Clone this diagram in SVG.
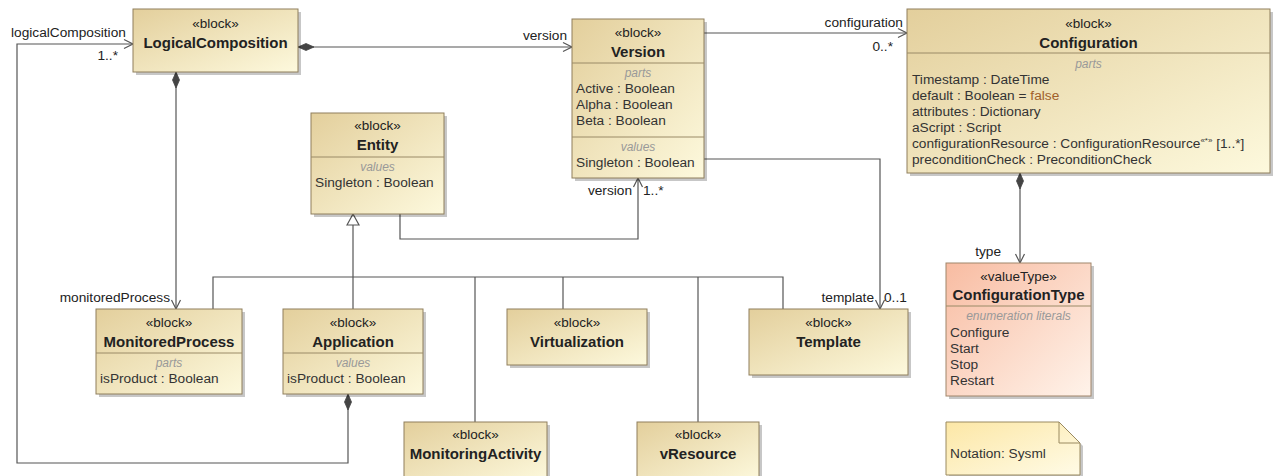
<svg xmlns="http://www.w3.org/2000/svg" width="1274" height="476" viewBox="0 0 1274 476">
<style>
.box{stroke:#8f7f5c;stroke-width:1;fill:url(#blk)}
.vt{stroke:#a0856a;stroke-width:1;fill:url(#vtg)}
.note{stroke:#9a8a60;stroke-width:1;fill:url(#ntg)}
.sh{fill:#000;opacity:0.22}
.div{stroke:#9a8a66;stroke-width:1}
.st{font-family:"Liberation Sans",Arial,sans-serif;font-size:13.5px;fill:#222;text-anchor:middle}
.nm{font-family:"Liberation Sans",Arial,sans-serif;font-size:15px;font-weight:bold;fill:#222;text-anchor:middle}
.cmp{font-family:"Liberation Sans",Arial,sans-serif;font-size:12px;font-style:italic;fill:#999;text-anchor:middle}
.at{font-family:"Liberation Sans",Arial,sans-serif;font-size:13.7px;fill:#333}
.lb{font-family:"Liberation Sans",Arial,sans-serif;font-size:13.7px;fill:#222}
.end{text-anchor:end}
.ln{fill:none;stroke:#555;stroke-width:1.2}
</style>
<defs>
<linearGradient id="blk" x1="0" y1="0" x2="1" y2="1">
<stop offset="0" stop-color="#e3cf9c"/>
<stop offset="1" stop-color="#fdf9dd"/>
</linearGradient>
<linearGradient id="vtg" x1="0" y1="0" x2="1" y2="1">
<stop offset="0" stop-color="#f8bca2"/>
<stop offset="1" stop-color="#fff3ea"/>
</linearGradient>
<linearGradient id="ntg" x1="0" y1="0" x2="1" y2="1">
<stop offset="0" stop-color="#fce7a6"/>
<stop offset="1" stop-color="#fffbe6"/>
</linearGradient>
<marker id="arr" markerUnits="userSpaceOnUse" markerWidth="12" markerHeight="12" refX="9" refY="4.5" orient="auto" viewBox="0 0 12 12" overflow="visible">
<path d="M0,0 L9,4.5 L0,9" fill="none" stroke="#555" stroke-width="1.2"/>
</marker>
<marker id="dia" markerUnits="userSpaceOnUse" markerWidth="18" markerHeight="10" refX="0" refY="4" orient="auto" viewBox="0 0 18 10" overflow="visible">
<path d="M0,4 L8,0.5 L16,4 L8,7.5 Z" fill="#444" stroke="#444" stroke-width="0.8"/>
</marker>
<marker id="gen" markerUnits="userSpaceOnUse" markerWidth="14" markerHeight="14" refX="11" refY="6" orient="auto" viewBox="0 0 14 14" overflow="visible">
<path d="M0,0 L11,6 L0,12 Z" fill="#fff" stroke="#555" stroke-width="1.2"/>
</marker>
</defs>
<rect width="1274" height="476" fill="#fff"/>

<g id="connectors">
<path class="ln" d="M348,394 L348,463 L17,463 L17,44 L133,44" marker-start="url(#dia)" marker-end="url(#arr)"/>
<path class="ln" d="M176,72 L176,309" marker-start="url(#dia)" marker-end="url(#arr)"/>
<path class="ln" d="M298,47 L572,47" marker-start="url(#dia)" marker-end="url(#arr)"/>
<path class="ln" d="M704,33 L907,33" marker-end="url(#arr)"/>
<path class="ln" d="M704,159 L880,159 L880,309" marker-end="url(#arr)"/>
<path class="ln" d="M400,214 L400,239 L638,239 L638,178" marker-end="url(#arr)"/>
<path class="ln" d="M1020,173 L1020,263" marker-start="url(#dia)" marker-end="url(#arr)"/>
<path class="ln" d="M353,309 L353,214" marker-end="url(#gen)"/>
<path class="ln" d="M213,309 L213,277 L783,277 L783,309"/>
<path class="ln" d="M475,277 L475,422"/>
<path class="ln" d="M563,277 L563,309"/>
<path class="ln" d="M698,277 L698,422"/>
<text class="lb" x="11" y="37">logicalComposition</text>
<text class="lb end" x="118" y="60">1..*</text>
<text class="lb end" x="170" y="302">monitoredProcess</text>
<text class="lb end" x="567" y="40">version</text>
<text class="lb end" x="903" y="27">configuration</text>
<text class="lb end" x="893" y="51">0..*</text>
<text class="lb end" x="632" y="195">version</text>
<text class="lb" x="643" y="195">1..*</text>
<text class="lb end" x="874" y="302">template</text>
<text class="lb" x="884" y="302">0..1</text>
<text class="lb end" x="1001" y="256">type</text>
</g>

<g id="LogicalComposition">
<rect class="sh" x="136" y="12" width="165" height="63"/>
<rect class="box" x="133" y="9" width="165" height="63"/>
<text class="st" x="215.5" y="28">«block»</text>
<text class="nm" x="215.5" y="48">LogicalComposition</text>
</g>

<g id="Version">
<rect class="sh" x="575" y="22" width="132" height="159"/>
<rect class="box" x="572" y="19" width="132" height="159"/>
<text class="st" x="638" y="37">«block»</text>
<text class="nm" x="638" y="57">Version</text>
<line class="div" x1="572" y1="63" x2="704" y2="63"/>
<text class="cmp" x="638" y="77">parts</text>
<text class="at" x="576" y="93">Active : Boolean</text>
<text class="at" x="576" y="109">Alpha : Boolean</text>
<text class="at" x="576" y="125">Beta : Boolean</text>
<line class="div" x1="572" y1="137" x2="704" y2="137"/>
<text class="cmp" x="638" y="151">values</text>
<text class="at" x="576" y="167">Singleton : Boolean</text>
</g>

<g id="Configuration">
<rect class="sh" x="910" y="12" width="363" height="164"/>
<rect class="box" x="907" y="9" width="363" height="164"/>
<text class="st" x="1088.5" y="28">«block»</text>
<text class="nm" x="1088.5" y="48">Configuration</text>
<line class="div" x1="907" y1="53" x2="1270" y2="53"/>
<text class="cmp" x="1088.5" y="68">parts</text>
<text class="at" x="912" y="84">Timestamp : DateTime</text>
<text class="at" x="912" y="100">default : Boolean = <tspan fill="#a0602a">false</tspan></text>
<text class="at" x="912" y="116">attributes : Dictionary</text>
<text class="at" x="912" y="132">aScript : Script</text>
<text class="at" x="912" y="148">configurationResource : ConfigurationResource<tspan font-size="8" dy="-5">«*»</tspan><tspan dy="5"> [1..*]</tspan></text>
<text class="at" x="912" y="164">preconditionCheck : PreconditionCheck</text>
</g>

<g id="Entity">
<rect class="sh" x="314" y="116" width="133" height="101"/>
<rect class="box" x="311" y="113" width="133" height="101"/>
<text class="st" x="377.5" y="130">«block»</text>
<text class="nm" x="377.5" y="150">Entity</text>
<line class="div" x1="311" y1="157" x2="444" y2="157"/>
<text class="cmp" x="377.5" y="171">values</text>
<text class="at" x="315" y="187">Singleton : Boolean</text>
</g>

<g id="MonitoredProcess">
<rect class="sh" x="99" y="312" width="146" height="85"/>
<rect class="box" x="96" y="309" width="146" height="85"/>
<text class="st" x="169" y="327">«block»</text>
<text class="nm" x="169" y="347">MonitoredProcess</text>
<line class="div" x1="96" y1="353" x2="242" y2="353"/>
<text class="cmp" x="169" y="367">parts</text>
<text class="at" x="100" y="383">isProduct : Boolean</text>
</g>

<g id="Application">
<rect class="sh" x="286" y="312" width="140" height="85"/>
<rect class="box" x="283" y="309" width="140" height="85"/>
<text class="st" x="353" y="327">«block»</text>
<text class="nm" x="353" y="347">Application</text>
<line class="div" x1="283" y1="353" x2="423" y2="353"/>
<text class="cmp" x="353" y="367">values</text>
<text class="at" x="287" y="383">isProduct : Boolean</text>
</g>

<g id="Virtualization">
<rect class="sh" x="510" y="312" width="140" height="56"/>
<rect class="box" x="507" y="309" width="140" height="56"/>
<text class="st" x="577" y="327">«block»</text>
<text class="nm" x="577" y="347">Virtualization</text>
</g>

<g id="Template">
<rect class="sh" x="752" y="312" width="159" height="66"/>
<rect class="box" x="749" y="309" width="159" height="66"/>
<text class="st" x="828.5" y="327">«block»</text>
<text class="nm" x="828.5" y="347">Template</text>
</g>

<g id="MonitoringActivity">
<rect class="sh" x="407" y="425" width="143" height="60"/>
<rect class="box" x="404" y="422" width="143" height="60"/>
<text class="st" x="475.5" y="439">«block»</text>
<text class="nm" x="475.5" y="459">MonitoringActivity</text>
</g>

<g id="vResource">
<rect class="sh" x="640" y="425" width="122" height="60"/>
<rect class="box" x="637" y="422" width="122" height="60"/>
<text class="st" x="698" y="439">«block»</text>
<text class="nm" x="698" y="459">vResource</text>
</g>

<g id="ConfigurationType">
<rect class="sh" x="949" y="266" width="145" height="133"/>
<rect class="vt" x="946" y="263" width="145" height="133"/>
<text class="st" x="1018.5" y="281">«valueType»</text>
<text class="nm" x="1018.5" y="300">ConfigurationType</text>
<line class="div" x1="946" y1="306" x2="1091" y2="306"/>
<text class="cmp" x="1018.5" y="320">enumeration literals</text>
<text class="at" x="950" y="337">Configure</text>
<text class="at" x="950" y="353">Start</text>
<text class="at" x="950" y="369">Stop</text>
<text class="at" x="950" y="385">Restart</text>
</g>

<g id="Note">
<path class="sh" d="M949,425 L1062,425 L1083,446 L1083,478 L949,478 Z"/>
<path class="note" d="M946,422 L1059,422 L1080,443 L1080,475 L946,475 Z"/>
<path d="M1059,422 L1059,443 L1080,443" fill="none" stroke="#9a8a60" stroke-width="1"/>
<text class="at" x="950" y="458">Notation: Sysml</text>
</g>
</svg>
